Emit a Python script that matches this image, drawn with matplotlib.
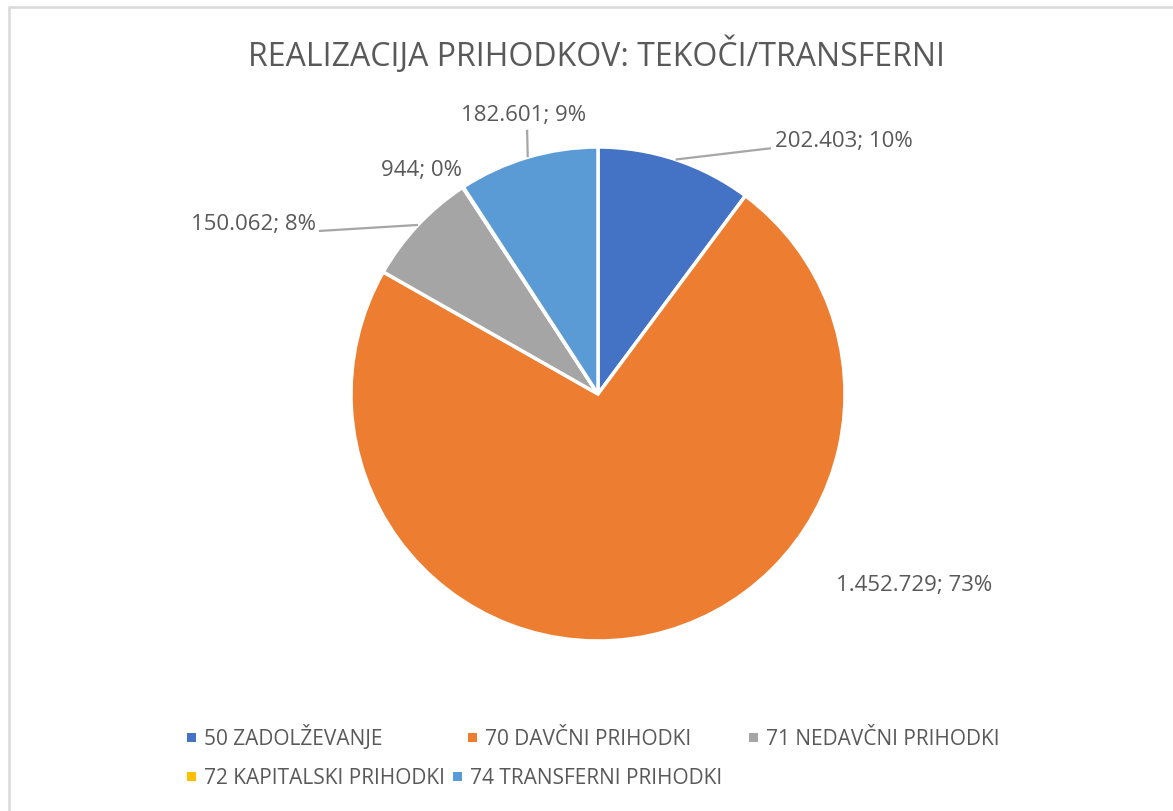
import numpy as np
import matplotlib
matplotlib.use("Agg")
import matplotlib.pyplot as plt
from matplotlib.patches import Rectangle

plt.rcParams['font.family'] = ['Open Sans', 'DejaVu Sans']

# ---- data ----
categories = ["50 ZADOLŽEVANJE", "70 DAVČNI PRIHODKI", "71 NEDAVČNI PRIHODKI",
              "72 KAPITALSKI PRIHODKI", "74 TRANSFERNI PRIHODKI"]
values = [202403, 1452729, 150062, 944, 182601]
colors = ["#4472C4", "#ED7D31", "#A5A5A5", "#FFC000", "#5B9BD5"]
title = "REALIZACIJA PRIHODKOV: TEKOČI/TRANSFERNI"

# ---- layout (pixels) ----
W, H = 1173, 812
DPI = 100
cx, cy, R = 598, 395, 247

TEXT = "#595959"
fig = plt.figure(figsize=(W / DPI, H / DPI), dpi=DPI)

# chart border
fig.patches.append(Rectangle((8.5 / W, -0.05), 1.2, (H - 7.5) / H + 0.05,
                             transform=fig.transFigure, fill=False,
                             edgecolor="#D9D9D9", linewidth=1.8))

ax = fig.add_axes([(cx - R) / W, (H - cy - R) / H, 2 * R / W, 2 * R / H])
wedges, _ = ax.pie(values, colors=colors, startangle=90, counterclock=False,
                   radius=1.0, wedgeprops=dict(edgecolor="white", linewidth=2.5))
ax.set_xlim(-1, 1)
ax.set_ylim(-1, 1)
ax.set_aspect("equal")
ax.axis("off")


def fmt(v):
    return f"{v:,}".replace(",", ".")


total = sum(values)
labels = [f"{fmt(v)}; {round(100 * v / total)}%" for v in values]

# label placement (data coords of axis, radius = 1) and alignment
label_pos = [(0.715, 1.025, "left"), (0.965, -0.77, "left"), (-1.14, 0.69, "right"),
             (-0.88, 0.91, "left"), (-0.555, 1.13, "left")]
# leader line break points (None = no leader)
leader_mid = [(0.70, 0.995), None, (-1.13, 0.66), None, (-0.287, 1.07)]

for w, lab, (lx, ly, ha), lm in zip(wedges, labels, label_pos, leader_mid):
    ax.text(lx, ly, lab, ha=ha, va="center", fontsize=16, color=TEXT, clip_on=False)
    if lm is not None:
        mid = np.deg2rad((w.theta1 + w.theta2) / 2)
        ex, ey = np.cos(mid), np.sin(mid)
        ax.plot([ex, lm[0]], [ey, lm[1]], color="#A6A6A6", lw=1.6, clip_on=False,
                solid_capstyle="butt")

# title
fig.text(597 / W, 1 - 55 / H, title, ha="center", va="center", fontsize=23, color=TEXT)

# legend (manual, Excel-like row flow)
leg_rows = [[(0, 187), (1, 468), (2, 749)], [(3, 187), (4, 453)]]
leg_y = [738, 777]
for row, yy in zip(leg_rows, leg_y):
    for idx, xx in row:
        fig.patches.append(Rectangle((xx / W, 1 - (yy + 4.5) / H), 9 / W, 9 / H,
                                     transform=fig.transFigure, facecolor=colors[idx],
                                     edgecolor="none"))
        fig.text((xx + 17) / W, 1 - (yy + 7.5) / H, categories[idx], ha="left",
                 va="baseline", fontsize=15, color=TEXT)

fig.savefig("out.png", dpi=DPI)
